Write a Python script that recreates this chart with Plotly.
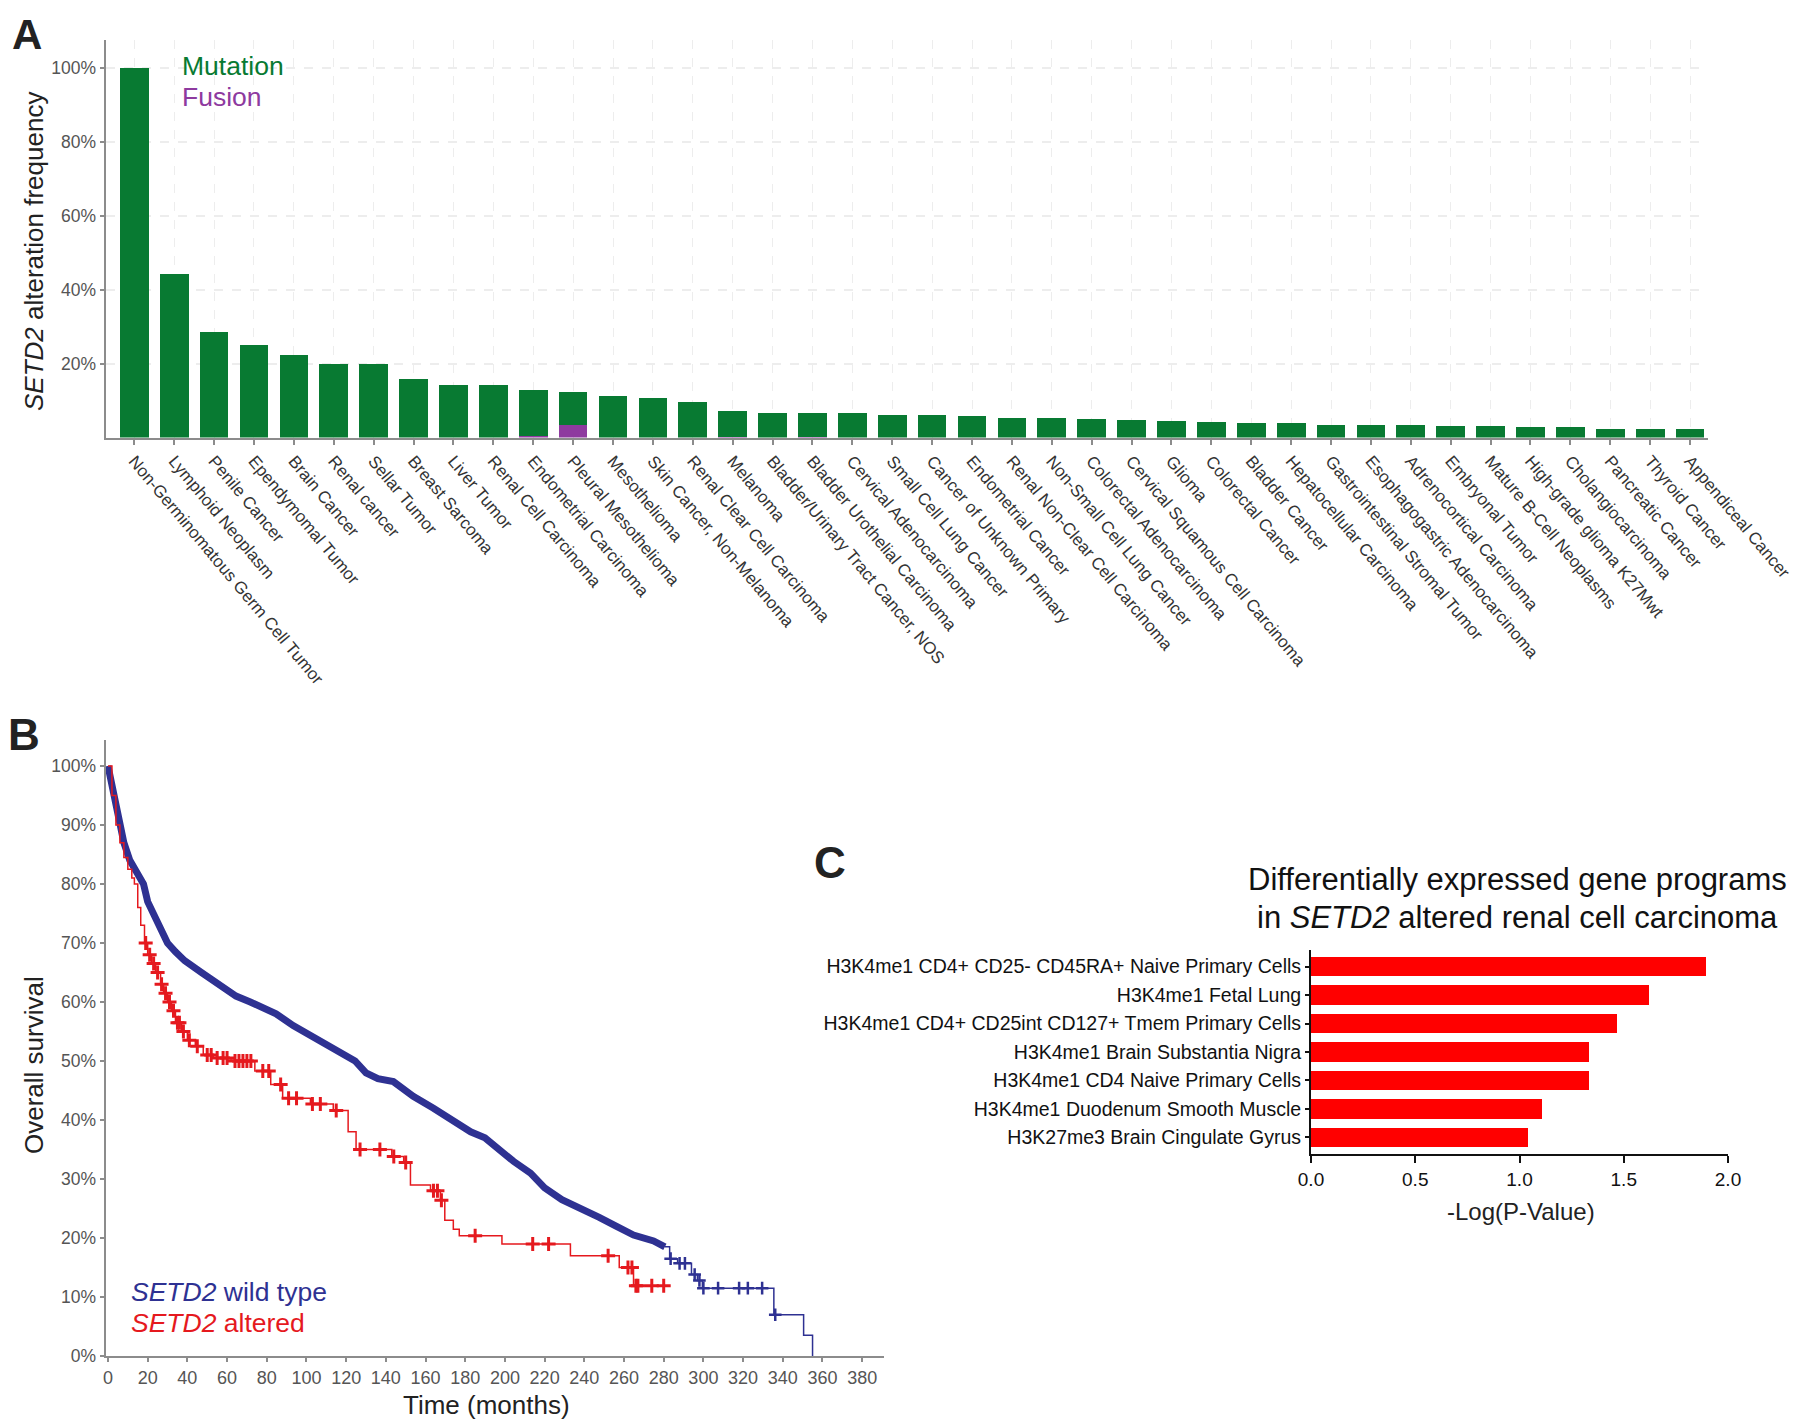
import plotly.graph_objects as go

# ==========================================
# DATA
# ==========================================

cancer_types = [
    "Non-Germinomatous Germ Cell Tumor", "Lymphoid Neoplasm", "Penile Cancer",
    "Ependymomal Tumor", "Brain Cancer", "Renal cancer", "Sellar Tumor",
    "Breast Sarcoma", "Liver Tumor", "Renal Cell Carcinoma",
    "Endometrial Carcinoma", "Pleural Mesothelioma", "Mesothelioma",
    "Skin Cancer, Non-Melanoma", "Renal Clear Cell Carcinoma", "Melanoma",
    "Bladder/Urinary Tract Cancer, NOS", "Bladder Urothelial Carcinoma",
    "Cervical Adenocarcinoma", "Small Cell Lung Cancer",
    "Cancer of Unknown Primary", "Endometrial Cancer",
    "Renal Non-Clear Cell Carcinoma", "Non-Small Cell Lung Cancer",
    "Colorectal Adenocarcinoma", "Cervical Squamous Cell Carcinoma", "Glioma",
    "Colorectal Cancer", "Bladder Cancer", "Hepatocellular Carcinoma",
    "Gastrointestinal Stromal Tumor", "Esophagogastric Adenocarcinoma",
    "Adrenocortical Carcinoma", "Embryonal Tumor", "Mature B-Cell Neoplasms",
    "High-grade glioma K27Mwt", "Cholangiocarcinoma", "Pancreatic Cancer",
    "Thyroid Cancer", "Appendiceal Cancer",
]

total_freq = [
    100.0, 44.2, 28.4, 24.9, 22.2, 19.8, 19.8, 15.8, 14.2, 14.2,
    12.8, 12.4, 11.1, 10.6, 9.6, 7.3, 6.6, 6.5, 6.5, 6.0,
    6.0, 5.7, 5.3, 5.2, 4.9, 4.8, 4.4, 4.2, 4.0, 4.0,
    3.4, 3.4, 3.4, 3.1, 3.1, 2.9, 2.8, 2.4, 2.4, 2.3,
]

fusion_freq = [
    0, 0, 0, 0, 0, 0, 0, 0, 0, 0,
    0.3, 3.3, 0, 0, 0, 0.2, 0, 0.2, 0, 0,
    0, 0, 0, 0, 0, 0, 0, 0, 0, 0,
    0, 0, 0, 0, 0, 0, 0, 0, 0, 0,
]

mutation_freq = [t - f for t, f in zip(total_freq, fusion_freq)]

a_yticks = [20, 40, 60, 80, 100]

# wild type, dense part (censor marks merge into a thick band)
wt_t = [0, 3, 5.5, 8, 11, 14, 17.9, 20, 22.8, 26, 30, 34, 38.6, 47, 56, 64.5,
        71.7, 84.7, 93.3, 103.4, 113.5, 124.5, 130, 136, 143.8, 153.8, 164,
        172.6, 182.7, 189.9, 196.5, 204.3, 212.9, 220, 228.7, 238.8, 247.5,
        256, 264.8, 274.9, 280.6]
wt_s = [100, 95, 90, 87, 84, 82, 80, 77, 75, 72.5, 70, 68.5, 67, 65, 63, 61,
        60, 58, 56, 54, 52, 50, 48, 47, 46.5, 44, 42, 40, 38, 37, 35, 33, 31,
        28.5, 26.5, 25, 23.5, 22, 20.5, 19.5, 18.5]

# wild type tail (steps)
wt_tail_t = [280.6, 283, 287, 294, 297, 299.5, 335.5, 350.5, 355]
wt_tail_s = [18.5, 16.5, 15.7, 13.8, 12.8, 11.5, 7, 3.5, 0]

wt_cens_t = [283.5, 288, 290.7, 295.6, 298, 300, 307.4, 318, 322.4, 329.6, 336.2]
wt_cens_s = [16.5, 15.7, 15.7, 13.8, 12.8, 11.5, 11.5, 11.5, 11.5, 11.5, 7]

# altered
alt_t = [0, 2, 4, 6, 8, 10, 12, 13.3, 15, 16.5, 18.4, 20, 22, 24, 26.5, 28,
         30, 32, 34, 37, 40, 44, 48, 53, 62, 74, 82, 88, 102, 113.5, 121, 125,
         143, 149, 152.4, 162.5, 167.5, 169.7, 174, 177, 198.5, 233, 257.6,
         264.8, 281]
alt_s = [100, 95, 90, 87, 84.5, 82.5, 81, 80, 76, 73, 70, 68, 66.5, 65, 63,
         61.5, 60, 58.5, 56.5, 55, 53.5, 52.5, 51, 50.5, 50, 48.3, 46, 43.7,
         42.7, 41.6, 38, 35, 33.8, 32.8, 29, 28, 26.4, 23, 21.5, 20.4, 19, 17,
         15, 11.9, 11.9]

alt_cens_t = [19, 21, 23, 25, 27, 29, 31, 33, 35, 36, 38, 41, 45, 50, 52, 55,
              58, 60, 64, 66, 68, 70, 72, 78, 81, 87, 91, 95, 103, 107, 115,
              127, 137, 144, 150, 164, 166, 168, 185, 214, 222, 252, 262, 264,
              266, 267, 274, 280]
alt_cens_s = [70, 68, 66.5, 65, 63, 61.5, 60, 58.5, 56.5, 56.5, 55, 53.5, 52.5,
              51, 51, 50.5, 50.5, 50.5, 50, 50, 50, 50, 50, 48.3, 48.3, 46,
              43.7, 43.7, 42.7, 42.7, 41.6, 35, 35, 33.8, 32.8, 28, 28, 26.4,
              20.4, 19, 19, 17, 15, 15, 11.9, 11.9, 11.9, 11.9]

b_xticks = list(range(0, 400, 20))
b_yticks = list(range(0, 110, 10))

programs = [
    "H3K4me1 CD4+ CD25- CD45RA+ Naive Primary Cells",
    "H3K4me1 Fetal Lung",
    "H3K4me1 CD4+ CD25int CD127+ Tmem Primary Cells",
    "H3K4me1 Brain Substantia Nigra",
    "H3K4me1 CD4 Naive Primary Cells",
    "H3K4me1 Duodenum Smooth Muscle",
    "H3K27me3 Brain Cingulate Gyrus",
]
neg_log_p = [1.893, 1.623, 1.466, 1.334, 1.331, 1.110, 1.040]

c_xticks = [0, 0.5, 1.0, 1.5, 2.0]

# ==========================================
# STYLE
# ==========================================

W, H = 1800, 1428
OFF = 8  # page body margin
FONT = "Liberation Sans, Arial, sans-serif"
GREEN = "#087A32"
PURPLE = "#8E3A9F"
BLUE = "#2E3192"
RED = "#E5191E"
BAR_RED = "#FF0000"


def px(x):
    return (x - OFF) / W


def py(y):
    return 1 - (y - OFF) / H


fig = go.Figure()

# ==========================================
# PANEL A
# ==========================================

fig.add_trace(go.Bar(
    x=cancer_types, y=fusion_freq, name="Fusion",
    marker=dict(color=PURPLE, line=dict(width=0)),
    width=0.72, xaxis="x", yaxis="y",
))

fig.add_trace(go.Bar(
    x=cancer_types, y=mutation_freq, name="Mutation",
    marker=dict(color=GREEN, line=dict(width=0)),
    width=0.72, xaxis="x", yaxis="y",
))

# ==========================================
# PANEL B
# ==========================================

fig.add_trace(go.Scatter(
    x=wt_t, y=wt_s, mode="lines",
    line=dict(color=BLUE, width=7),
    xaxis="x2", yaxis="y2",
))

fig.add_trace(go.Scatter(
    x=wt_tail_t, y=wt_tail_s, mode="lines",
    line=dict(color=BLUE, width=1.5, shape="hv"),
    xaxis="x2", yaxis="y2",
))

fig.add_trace(go.Scatter(
    x=wt_cens_t, y=wt_cens_s, mode="markers",
    marker=dict(symbol="cross-thin", size=9,
                line=dict(color=BLUE, width=2.5)),
    xaxis="x2", yaxis="y2",
))

fig.add_trace(go.Scatter(
    x=alt_t, y=alt_s, mode="lines",
    line=dict(color=RED, width=1.5, shape="hv"),
    xaxis="x2", yaxis="y2",
))

fig.add_trace(go.Scatter(
    x=alt_cens_t, y=alt_cens_s, mode="markers",
    marker=dict(symbol="cross-thin", size=10,
                line=dict(color=RED, width=3)),
    xaxis="x2", yaxis="y2",
))

# ==========================================
# PANEL C
# ==========================================

fig.add_trace(go.Bar(
    x=neg_log_p, y=programs, orientation="h",
    marker=dict(color=BAR_RED, line=dict(width=0)),
    width=0.68, xaxis="x3", yaxis="y3",
))

# ==========================================
# LAYOUT
# ==========================================

grey_axis = dict(
    showline=True, linecolor="#8C8C8C", linewidth=2,
    ticks="outside", ticklen=4, tickcolor="#8C8C8C", tickwidth=1.5,
    zeroline=False, mirror=False, automargin=False,
)

black_axis = dict(
    showline=True, linecolor="#111111", linewidth=2,
    ticks="outside", tickcolor="#111111", tickwidth=1.5,
    zeroline=False, showgrid=False, automargin=False,
)

fig.update_layout(
    width=W, height=H,
    margin=dict(l=0, r=0, t=0, b=0),
    paper_bgcolor="white", plot_bgcolor="white",
    barmode="stack",
    showlegend=False,
    font=dict(family=FONT, color="#222222"),

    xaxis=dict(
        grey_axis,
        domain=[px(105.6), px(1708)], anchor="y",
        type="category", categoryorder="array", categoryarray=cancer_types,
        range=[-0.72, 39.45],
        tickangle=50, ticklen=5,
        tickfont=dict(size=17, color="#333333"),
        showgrid=True, gridcolor="#EDEDED", griddash="dash", gridwidth=1,
    ),
    yaxis=dict(
        grey_axis,
        domain=[py(437.5), py(40)], anchor="x",
        range=[0, 107.5],
        tickmode="array", tickvals=a_yticks,
        ticktext=[f"{v}%" for v in a_yticks],
        tickfont=dict(size=17.5, color="#555555"),
        showgrid=True, gridcolor="#EDEDED", griddash="dash", gridwidth=1.5,
    ),

    xaxis2=dict(
        grey_axis,
        domain=[px(105.6), px(884)], anchor="y2",
        range=[-1.2, 391], tickmode="array", tickvals=b_xticks,
        ticktext=[str(v) for v in b_xticks],
        tickfont=dict(size=18, color="#555555"),
        showgrid=False,
    ),
    yaxis2=dict(
        grey_axis,
        domain=[py(1356), py(740)], anchor="x2",
        range=[0, 104.4], tickmode="array", tickvals=b_yticks,
        ticktext=[f"{v}%" for v in b_yticks],
        tickfont=dict(size=17.5, color="#555555"),
        showgrid=False,
    ),

    xaxis3=dict(
        black_axis,
        domain=[px(1311), px(1728)], anchor="y3",
        range=[0, 2.0], tickmode="array", tickvals=c_xticks,
        ticktext=[f"{v:.1f}" for v in c_xticks],
        ticklen=7,
        tickfont=dict(size=19, color="#111111"),
    ),
    yaxis3=dict(
        black_axis,
        domain=[py(1154), py(950)], anchor="x3",
        type="category", categoryorder="array", categoryarray=programs,
        range=[6.58, -0.58], ticklen=4,
        tickfont=dict(size=19.5, color="#111111"),
    ),
)

annotations = [
    # panel letters
    dict(text="<b>A</b>", x=px(10), y=py(9), size=42, anchor="left",
         yanchor="top"),
    dict(text="<b>B</b>", x=px(6), y=py(734), size=44, anchor="left"),
    dict(text="<b>C</b>", x=px(812), y=py(862), size=44, anchor="left"),
    # panel A legend
    dict(text="Mutation", x=px(180), y=py(66), size=26.5, anchor="left",
         color=GREEN),
    dict(text="Fusion", x=px(180), y=py(97), size=26.5, anchor="left",
         color=PURPLE),
    # panel B legend
    dict(text="<i>SETD2</i> wild type", x=px(129), y=py(1292), size=26.5,
         anchor="left", color=BLUE),
    dict(text="<i>SETD2</i> altered", x=px(129), y=py(1323), size=26.5,
         anchor="left", color=RED),
    # axis titles
    dict(text="Time (months)", x=px(486), y=py(1405), size=26,
         anchor="center"),
    dict(text="-Log(P-Value)", x=px(1521), y=py(1211), size=24,
         anchor="center"),
    # panel C title
    dict(text="Differentially expressed gene programs", x=px(1517),
         y=py(879), size=31, anchor="center", color="#111111"),
    dict(text="in <i>SETD2</i> altered renal cell carcinoma", x=px(1517),
         y=py(918), size=31, anchor="center", color="#111111"),
]

for a in annotations:
    fig.add_annotation(
        text=a["text"], x=a["x"], y=a["y"],
        xref="paper", yref="paper", showarrow=False,
        xanchor=a["anchor"], yanchor=a.get("yanchor", "middle"),
        font=dict(size=a["size"], color=a.get("color", "#222222"),
                  family=FONT),
    )

# rotated y titles
fig.add_annotation(
    text="<i>SETD2</i> alteration frequency", x=px(34), y=py(252),
    xref="paper", yref="paper", showarrow=False, textangle=-90,
    xanchor="center", yanchor="middle",
    font=dict(size=26, color="#222222", family=FONT),
)

fig.add_annotation(
    text="Overall survival", x=px(34), y=py(1065),
    xref="paper", yref="paper", showarrow=False, textangle=-90,
    xanchor="center", yanchor="middle",
    font=dict(size=26, color="#222222", family=FONT),
)

fig.write_html("out.html")
